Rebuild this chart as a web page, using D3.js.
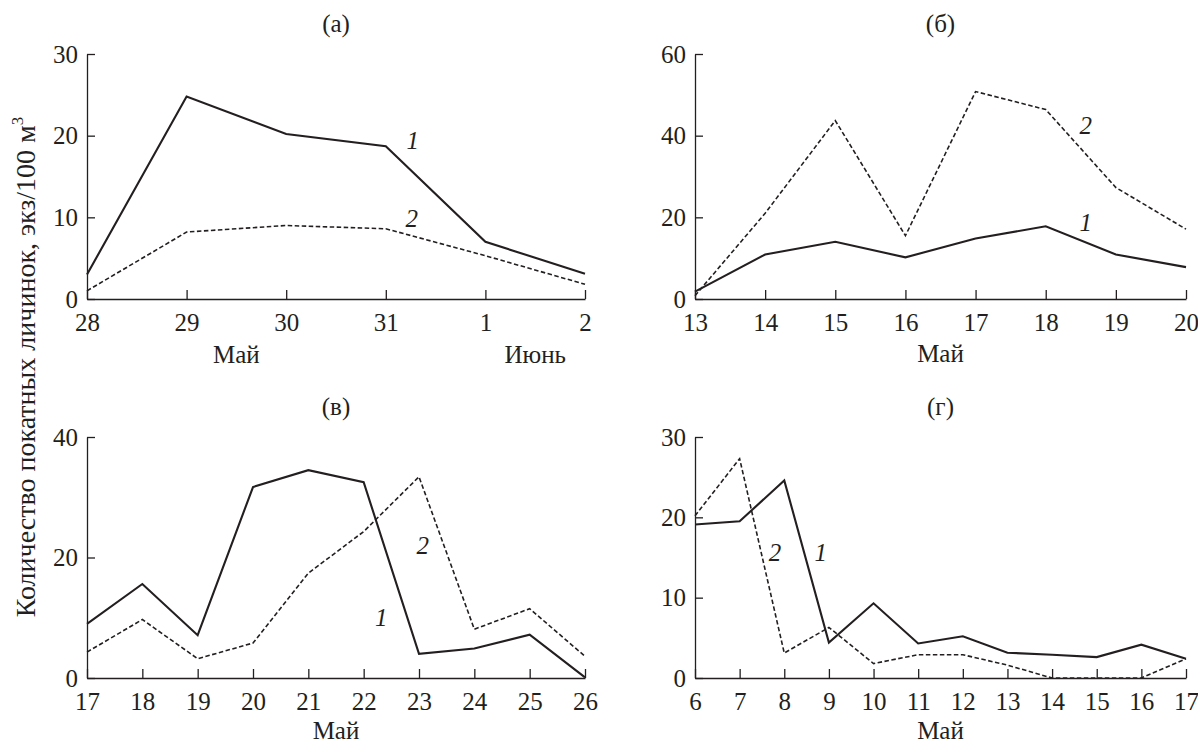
<!DOCTYPE html>
<html>
<head>
<meta charset="utf-8">
<script src="https://cdnjs.cloudflare.com/ajax/libs/d3/7.8.5/d3.min.js"></script>
</head>
<body style="margin:0;padding:0;background:#fff">
<svg id="fig" width="1198" height="743" style="display:block"></svg>
<script>
// ---------- DATA ----------
// Panel (а): 28 May – 2 June
const daysA = ["28", "29", "30", "31", "1", "2"];
const seriesA1 = [3.0, 24.8, 20.2, 18.7, 7.0, 3.1];
const seriesA2 = [1.0, 8.2, 9.0, 8.6, 5.3, 1.8];
const yTicksA = [0, 10, 20, 30];

// Panel (б): 13–20 May
const daysB = ["13", "14", "15", "16", "17", "18", "19", "20"];
const seriesB1 = [1.8, 10.9, 14.0, 10.2, 14.8, 17.8, 10.9, 7.8];
const seriesB2 = [0.8, 21.0, 43.7, 15.5, 50.8, 46.4, 27.3, 17.1];
const yTicksB = [0, 20, 40, 60];

// Panel (в): 17–26 May
const daysV = ["17", "18", "19", "20", "21", "22", "23", "24", "25", "26"];
const seriesV1 = [9.0, 15.6, 7.1, 31.7, 34.5, 32.5, 4.0, 4.9, 7.2, 0.1];
const seriesV2 = [4.3, 9.7, 3.2, 5.8, 17.4, 24.3, 33.4, 8.1, 11.5, 3.6];
const yTicksV = [0, 20, 40];

// Panel (г): 6–17 May
const daysG = ["6", "7", "8", "9", "10", "11", "12", "13", "14", "15", "16", "17"];
const seriesG1 = [19.1, 19.5, 24.6, 4.4, 9.3, 4.3, 5.2, 3.15, 2.9, 2.6, 4.15, 2.4];
const seriesG2 = [20.2, 27.3, 3.1, 6.3, 1.8, 2.9, 2.9, 1.6, 0, 0, 0, 2.4];
const yTicksG = [0, 10, 20, 30];

const yAxisTitle = "Количество покатных личинок, экз/100 м";

// ---------- LAYOUT ----------
const panels = [
  { title: "(а)", days: daysA, s1: seriesA1, s2: seriesA2, yTicks: yTicksA,
    x0: 87, x1: 585, y0: 299, y1: 54, monthY: 363,
    months: [{ text: "Май", at: 1.5 }, { text: "Июнь", at: 4.5 }],
    lab1: [3.27, 19.5], lab2: [3.26, 9.9] },
  { title: "(б)", days: daysB, s1: seriesB1, s2: seriesB2, yTicks: yTicksB,
    x0: 695, x1: 1186, y0: 299, y1: 54, monthY: 362,
    months: [{ text: "Май", at: 3.5 }],
    lab1: [5.57, 18.9], lab2: [5.57, 42.6] },
  { title: "(в)", days: daysV, s1: seriesV1, s2: seriesV2, yTicks: yTicksV,
    x0: 87, x1: 585, y0: 678, y1: 437, monthY: 739,
    months: [{ text: "Май", at: 4.5 }],
    lab1: [5.32, 10.1], lab2: [6.07, 22.1] },
  { title: "(г)", days: daysG, s1: seriesG1, s2: seriesG2, yTicks: yTicksG,
    x0: 695, x1: 1186, y0: 678, y1: 437, monthY: 739,
    months: [{ text: "Май", at: 5.5 }],
    lab1: [2.82, 15.6], lab2: [1.79, 15.6] }
];

const INK = "#231f20";
const FS = 25;
const svg = d3.select("#fig");

function styleText(sel, size) {
  return sel.attr("font-family", "Liberation Serif")
    .style("font-family", '"Liberation Serif"', "important")
    .attr("font-size", size).style("font-size", size + "px", "important")
    .attr("fill", INK);
}

panels.forEach(p => {
  const n = p.days.length;
  const x = d3.scaleLinear().domain([0, n - 1]).range([p.x0, p.x1]);
  const yMax = p.yTicks[p.yTicks.length - 1];
  const y = d3.scaleLinear().domain([0, yMax]).range([p.y0, p.y1]);
  const g = svg.append("g");

  const xa = g.append("g").attr("transform", `translate(0,${p.y0})`)
    .call(d3.axisBottom(x).tickValues(d3.range(n)).tickFormat(i => p.days[i])
      .tickSizeInner(-9).tickSizeOuter(0).tickPadding(14));
  const ya = g.append("g").attr("transform", `translate(${p.x0},0)`)
    .call(d3.axisLeft(y).tickValues(p.yTicks).tickFormat(d3.format("d"))
      .tickSizeInner(-8).tickSizeOuter(0).tickPadding(9));
  [xa, ya].forEach(a => {
    a.attr("font-family", "Liberation Serif").attr("font-size", FS);
    a.selectAll("path.domain").attr("stroke", INK).attr("stroke-width", 1.3);
    a.selectAll(".tick line").attr("stroke", INK).attr("stroke-width", 1.3);
    styleText(a.selectAll(".tick text"), FS);
  });

  const line = d3.line().x((d, i) => x(i)).y(d => y(d));
  g.append("path").datum(p.s2).attr("d", line)
    .attr("fill", "none").attr("stroke", INK).attr("stroke-width", 1.6)
    .attr("stroke-dasharray", "4.5,2.5");
  g.append("path").datum(p.s1).attr("d", line)
    .attr("fill", "none").attr("stroke", INK).attr("stroke-width", 2.1)
    .attr("stroke-linejoin", "miter");

  styleText(g.append("text").attr("x", (p.x0 + p.x1) / 2).attr("y", p.y1 - 22)
    .attr("text-anchor", "middle").text(p.title), FS);

  p.months.forEach(m => {
    styleText(g.append("text").attr("x", x(m.at)).attr("y", p.monthY)
      .attr("text-anchor", "middle").text(m.text), FS);
  });

  [[p.lab1, "1"], [p.lab2, "2"]].forEach(([pos, t]) => {
    styleText(g.append("text").attr("x", x(pos[0])).attr("y", y(pos[1]))
      .attr("dy", "0.35em").attr("text-anchor", "middle")
      .attr("font-style", "italic").style("font-style", "italic").text(t), FS);
  });
});

const yt = styleText(svg.append("text")
  .attr("transform", "translate(35,367) rotate(-90)")
  .attr("text-anchor", "middle"), 28);
yt.append("tspan").text(yAxisTitle);
yt.append("tspan").attr("font-size", 17).style("font-size", "17px", "important").attr("dy", -12).text("3");
</script>
</body>
</html>
